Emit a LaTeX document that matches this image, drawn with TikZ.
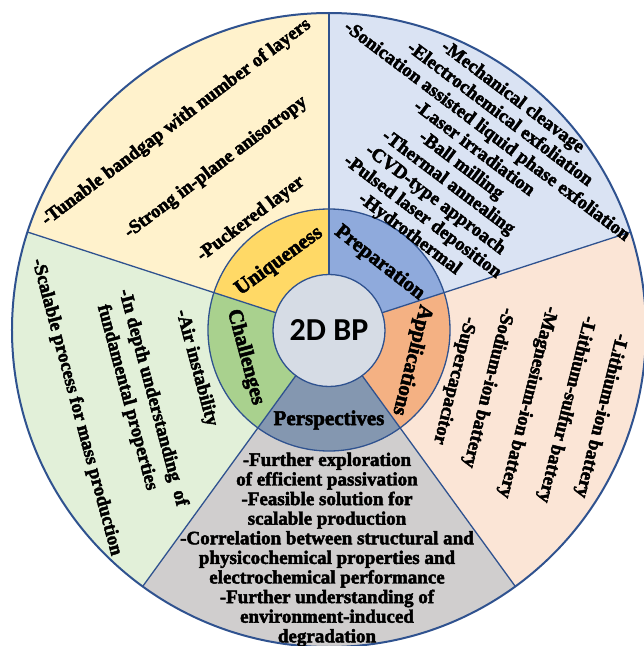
\documentclass[tikz,border=0pt]{standalone}
\usepackage{fontspec}
\setmainfont{Liberation Serif}[BoldFeatures={FakeBold=2.5}]
\newfontfamily\bphubfamily{Carlito}

% outline and sector palette
\definecolor{lineblue}{HTML}{2F528F}
\definecolor{uniqOut}{HTML}{FFF2CC}
\definecolor{uniqRing}{HTML}{FFD966}
\definecolor{prepOut}{HTML}{DAE3F3}
\definecolor{prepRing}{HTML}{8FAADC}
\definecolor{applOut}{HTML}{FBE5D6}
\definecolor{applRing}{HTML}{F4B183}
\definecolor{perspOut}{HTML}{D0CECE}
\definecolor{perspRing}{HTML}{8497B0}
\definecolor{chalOut}{HTML}{E2F0D9}
\definecolor{chalRing}{HTML}{A9D18E}
\definecolor{hubFill}{HTML}{D6DCE5}

\newcommand\bpitemfont{\bfseries\fontsize{19}{21.4}\selectfont}
\newcommand\bpringfont{\bfseries\fontsize{21}{24}\selectfont}

\begin{document}
\begin{tikzpicture}[x=1pt,y=1pt,
  sepline/.style={draw=lineblue, line width=1.3pt},
  itemtext/.style={font=\bpitemfont, inner sep=0pt, align=center, text=black},
  ringtext/.style={font=\bpringfont, inner sep=0pt, text=black},
]
\useasboundingbox (-329,-316) rectangle (315,330);

% outer sectors and inner ring sectors
\foreach \a/\b/\co/\cr in {90/162/uniqOut/uniqRing,
                           18/90/prepOut/prepRing,
                           -54/18/applOut/applRing,
                           -126/-54/perspOut/perspRing,
                           162/234/chalOut/chalRing}{
  \fill[\co] (0,0) -- (\a:317pt) arc[start angle=\a, end angle=\b, radius=317pt] -- cycle;
  \fill[\cr] (0,0) -- (\a:121pt) arc[start angle=\a, end angle=\b, radius=121pt] -- cycle;
}

% radial separators
\foreach \a in {90,18,-54,-126,162}
  \draw[sepline] (\a:56pt) -- (\a:317pt);

% ring border, hub and outer rim
\draw[sepline] (0,0) circle[radius=121pt];
\node[circle, fill=hubFill, draw=lineblue, line width=1.3pt, minimum size=112pt,
      inner sep=0pt, font=\bphubfamily\bfseries\fontsize{32}{36}\selectfont] (hub) at (0,-0.5) {2D BP};
\draw[lineblue, line width=2pt] (0,0) circle[radius=317pt];

% ring labels
\node[ringtext, rotate=36]   (uniq)  at (126:85pt)  {Uniqueness};
\node[ringtext, rotate=-38]  (prep)  at (53:84pt)   {Preparation};
\node[ringtext, rotate=-104] (appl)  at (-20:88pt)  {Applications};
\node[ringtext]              (persp) at (-90:90pt)  {Perspectives};
\node[ringtext, rotate=-75]  (chal)  at (198:88pt)  {Challenges};

% uniqueness items
\node[itemtext, rotate=37] (u1) at (126.3:257.5pt) {-Tunable bandgap with number of layers};
\node[itemtext, rotate=37] (u2) at (124.8:198pt)   {-Strong in-plane anisotropy};
\node[itemtext, rotate=37] (u3) at (125.1:135.7pt) {-Puckered layer};

% preparation items
\node[itemtext, rotate=-37] (p1) at (51.2:210.6pt) {-Mechanical cleavage\\
  -Electrochemical exfoliation\\
  -Sonication assisted liquid phase exfoliation\\
  -Laser irradiation\\
  -Ball milling\\
  -Thermal annealing\\
  -CVD-type approach\\
  -Pulsed laser deposition\\
  -Hydrothermal};

% application items
\node[itemtext, rotate=-104] (a1) at (-17.5:285pt) {-Lithium-ion battery};
\node[itemtext, rotate=-104] (a2) at (-18.5:250pt) {-Lithium-sulfur battery};
\node[itemtext, rotate=-104] (a3) at (-20:211pt)   {-Magnesium-ion battery};
\node[itemtext, rotate=-104] (a4) at (-20:169pt)   {-Sodium-ion battery};
\node[itemtext, rotate=-104] (a5) at (-22:135pt)   {-Supercapacitor};

% perspective items
\node[itemtext, font={\bfseries\fontsize{19}{19.6}\selectfont}] (s1) at (-2,-219.6) {-Further exploration\\
  of efficient passivation\\
  -Feasible solution for\\
  scalable production\\
  -Correlation between structural and\\
  physicochemical properties and\\
  electrochemical performance\\
  -Further understanding of\\
  environment-induced\\
  degradation};

% challenge items
\node[itemtext, rotate=-75] (c1) at (196:138pt)   {-Air instability};
\node[itemtext, rotate=-75] (c2) at (201:189pt)   {-In depth understanding\ \ of};
\node[itemtext, rotate=-75] (c3) at (198.5:213pt) {fundamental properties};
\node[itemtext, rotate=-75] (c4) at (197:264pt)   {-Scalable process for mass production};
\end{tikzpicture}
\end{document}
